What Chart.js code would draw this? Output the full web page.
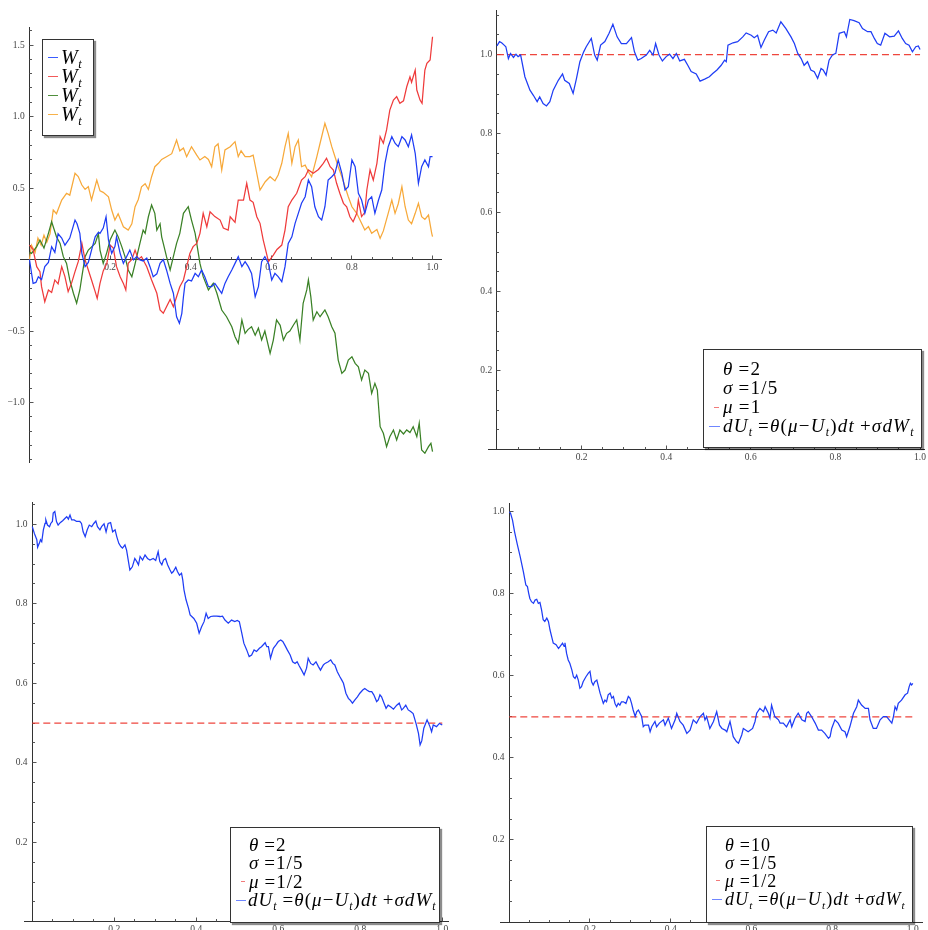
<!DOCTYPE html>
<html><head><meta charset="utf-8">
<script src="https://cdn.jsdelivr.net/npm/chart.js@4.4.1/dist/chart.umd.min.js"></script>
<style>
html,body{margin:0;padding:0;background:#fff;}
body{width:928px;height:930px;position:relative;overflow:hidden;}
canvas{position:absolute;}
.leg{position:absolute;background:#fff;border:1px solid #333;box-shadow:2px 2px 1px rgba(0,0,0,0.45);box-sizing:border-box;}
.row{position:absolute;white-space:nowrap;font-family:'Liberation Serif','Times New Roman',serif;color:#000;line-height:20px;height:20px;}
.mk{position:absolute;height:0;border-top:1.3px solid;}
sub{font-size:0.62em;vertical-align:-0.32em;line-height:0;}
.fB{font-size:19px;letter-spacing:1.2px;}
.fC{font-size:19px;letter-spacing:1.05px;}
.fD{font-size:18px;letter-spacing:1.1px;}
.fA{font-size:20px;letter-spacing:0.5px;}
</style></head><body>
<canvas id="cA" width="464" height="470" style="left:0;top:0"></canvas>
<canvas id="cB" width="464" height="465" style="left:464px;top:0"></canvas>
<canvas id="cC" width="464" height="465" style="left:0;top:465px"></canvas>
<canvas id="cD" width="464" height="465" style="left:464px;top:465px"></canvas>

<!-- legend A -->
<div class="leg" style="left:42px;top:39px;width:52px;height:97px;"></div>
<div class="mk" style="left:48px;top:57px;width:10px;border-color:#3a5cff"></div>
<div class="mk" style="left:48px;top:76px;width:10px;border-color:#f25a5a"></div>
<div class="mk" style="left:48px;top:95px;width:10px;border-color:#4f8f3c"></div>
<div class="mk" style="left:48px;top:114px;width:10px;border-color:#f7b24a"></div>
<div class="row fA" style="left:61px;top:47px;"><i>W</i><sub><i>t</i></sub></div>
<div class="row fA" style="left:61px;top:66px;"><i>W</i><sub><i>t</i></sub></div>
<div class="row fA" style="left:61px;top:85px;"><i>W</i><sub><i>t</i></sub></div>
<div class="row fA" style="left:61px;top:104px;"><i>W</i><sub><i>t</i></sub></div>

<!-- legend B -->
<div class="leg" style="left:703px;top:349px;width:219px;height:99px;"></div>
<div class="row fB" style="left:723px;top:359px;"><i>θ</i>&#8201;=2</div>
<div class="row fB" style="left:723px;top:378px;"><i>σ</i>&#8201;=1/5</div>
<div class="mk" style="left:714px;top:407px;width:5px;border-color:#f27a7a"></div>
<div class="row fB" style="left:723px;top:397px;"><i>μ</i>&#8201;=1</div>
<div class="mk" style="left:709px;top:426px;width:11px;border-color:#6f86ff"></div>
<div class="row fB" style="left:723px;top:416px;"><i>dU</i><sub><i>t</i></sub>&#8201;=<i>θ</i>(<i>μ</i>−<i>U</i><sub><i>t</i></sub>)<i>dt</i>&#8201;+<i>σdW</i><sub><i>t</i></sub></div>

<!-- legend C -->
<div class="leg" style="left:230px;top:827px;width:210px;height:96px;"></div>
<div class="row fC" style="left:249px;top:835px;"><i>θ</i>&#8201;=2</div>
<div class="row fC" style="left:249px;top:853px;"><i>σ</i>&#8201;=1/5</div>
<div class="mk" style="left:241px;top:881px;width:4px;border-color:#f27a7a"></div>
<div class="row fC" style="left:249px;top:872px;"><i>μ</i>&#8201;=1/2</div>
<div class="mk" style="left:236px;top:900px;width:10px;border-color:#6f86ff"></div>
<div class="row fC" style="left:248px;top:890px;"><i>dU</i><sub><i>t</i></sub>&#8201;=<i>θ</i>(<i>μ</i>−<i>U</i><sub><i>t</i></sub>)<i>dt</i>&#8201;+<i>σdW</i><sub><i>t</i></sub></div>

<!-- legend D -->
<div class="leg" style="left:706px;top:826px;width:207px;height:97px;"></div>
<div class="row fD" style="left:725px;top:835px;"><i>θ</i>&#8201;=10</div>
<div class="row fD" style="left:725px;top:853px;"><i>σ</i>&#8201;=1/5</div>
<div class="mk" style="left:716px;top:880px;width:4px;border-color:#f27a7a"></div>
<div class="row fD" style="left:725px;top:871px;"><i>μ</i>&#8201;=1/2</div>
<div class="mk" style="left:712px;top:899px;width:10px;border-color:#6f86ff"></div>
<div class="row fD" style="left:725px;top:889px;"><i>dU</i><sub><i>t</i></sub>&#8201;=<i>θ</i>(<i>μ</i>−<i>U</i><sub><i>t</i></sub>)<i>dt</i>&#8201;+<i>σdW</i><sub><i>t</i></sub></div>

<script>
// ---------------- DATA ----------------
// Panel A: four Wiener paths W_t
const blueT = [0,0.009,0.016,0.022,0.030,0.038,0.047,0.055,0.063,0.071,
0.080,0.088,0.100,0.113,0.118,0.125,0.130,0.138,0.146,0.154,
0.163,0.171,0.175,0.183,0.190,0.196,0.204,0.212,0.216,0.225,
0.233,0.241,0.249,0.258,0.266,0.274,0.282,0.291,0.299,0.307,
0.316,0.324,0.332,0.340,0.349,0.357,0.365,0.372,0.378,0.382,
0.386,0.394,0.402,0.411,0.419,0.427,0.435,0.444,0.452,0.460,
0.468,0.477,0.485,0.493,0.502,0.510,0.518,0.527,0.535,0.543,
0.551,0.560,0.568,0.576,0.584,0.593,0.601,0.609,0.617,0.626,
0.634,0.642,0.651,0.659,0.667,0.675,0.684,0.692,0.700,0.708,
0.717,0.725,0.733,0.741,0.750,0.758,0.766,0.775,0.783,0.791,
0.800,0.808,0.816,0.824,0.832,0.841,0.849,0.857,0.866,0.874,
0.882,0.890,0.899,0.907,0.915,0.924,0.932,0.940,0.948,0.957,
0.965,0.973,0.981,0.990,0.994,1.0];
const blueW = [0,-0.167,-0.16,-0.12,-0.14,-0.05,-0.02,0.09,0.05,0.18,
0.15,0.10,0.15,0.276,0.25,0.183,0.043,-0.05,-0.02,0.066,
0.159,0.19,0.183,0.22,0.299,0.136,0.043,0.09,0.159,0.043,
-0.027,0.02,0.066,-0.003,0.02,-0.003,-0.01,0.01,-0.05,-0.12,
-0.10,-0.027,0.0,-0.073,-0.167,-0.236,-0.40,-0.446,-0.376,-0.26,
-0.167,-0.143,-0.15,-0.097,-0.12,-0.073,-0.12,-0.19,-0.19,-0.167,
-0.20,-0.236,-0.167,-0.12,-0.073,-0.027,0.02,-0.05,-0.015,-0.05,
-0.097,-0.26,-0.19,-0.015,0.02,-0.027,-0.143,-0.097,-0.12,-0.155,
-0.05,0.113,0.159,0.253,0.323,0.393,0.439,0.556,0.509,0.369,
0.299,0.276,0.369,0.556,0.579,0.603,0.696,0.603,0.486,0.509,
0.696,0.649,0.463,0.416,0.323,0.416,0.439,0.323,0.416,0.486,
0.673,0.789,0.859,0.813,0.789,0.859,0.836,0.789,0.871,0.743,
0.533,0.649,0.696,0.649,0.719,0.719];

const redT = [0,0.009,0.018,0.026,0.030,0.038,0.047,0.055,0.063,0.071,
0.080,0.088,0.096,0.105,0.113,0.121,0.130,0.138,0.146,0.154,
0.163,0.168,0.175,0.183,0.192,0.200,0.208,0.216,0.225,0.233,
0.239,0.245,0.254,0.262,0.270,0.278,0.291,0.303,0.316,0.324,
0.332,0.340,0.349,0.357,0.365,0.373,0.382,0.390,0.398,0.406,
0.415,0.423,0.431,0.440,0.448,0.460,0.473,0.481,0.493,0.498,
0.510,0.518,0.531,0.539,0.547,0.555,0.564,0.572,0.580,0.593,
0.605,0.614,0.626,0.634,0.642,0.651,0.663,0.675,0.684,0.692,
0.704,0.717,0.729,0.737,0.746,0.754,0.762,0.770,0.779,0.787,
0.795,0.803,0.812,0.816,0.824,0.832,0.837,0.845,0.853,0.862,
0.870,0.878,0.886,0.894,0.903,0.911,0.919,0.928,0.936,0.944,
0.948,0.957,0.961,0.969,0.974,0.981,0.986,0.994,1.0];
const redW = [0.10,0.07,-0.05,-0.085,-0.19,-0.295,-0.213,-0.23,-0.143,-0.17,
-0.05,-0.12,-0.225,-0.16,-0.085,-0.015,0.113,-0.003,-0.073,-0.143,
-0.225,-0.272,-0.167,-0.08,-0.027,0.101,0.08,-0.05,-0.12,-0.167,
-0.213,-0.027,0.0,0.066,0.0,0.02,-0.05,-0.143,-0.236,-0.353,
-0.376,-0.33,-0.28,-0.33,-0.26,-0.19,-0.143,-0.05,0.043,0.09,
0.113,0.183,0.323,0.229,0.334,0.30,0.276,0.22,0.206,0.299,
0.26,0.416,0.416,0.533,0.416,0.40,0.299,0.253,0.136,-0.015,
0.031,0.07,0.101,0.206,0.369,0.416,0.463,0.556,0.579,0.626,
0.603,0.63,0.673,0.708,0.649,0.626,0.533,0.463,0.393,0.369,
0.299,0.264,0.323,0.416,0.30,0.33,0.486,0.626,0.556,0.673,
0.859,0.813,0.906,1.045,1.115,1.139,1.092,1.11,1.208,1.278,
1.24,1.325,1.185,1.115,1.092,1.325,1.372,1.395,1.558];

const greenT = [0,0.005,0.018,0.026,0.036,0.047,0.055,0.067,0.076,0.084,
0.092,0.100,0.109,0.117,0.125,0.130,0.138,0.146,0.163,0.171,
0.175,0.183,0.192,0.200,0.208,0.212,0.220,0.229,0.237,0.245,
0.254,0.262,0.274,0.282,0.287,0.295,0.303,0.311,0.316,0.324,
0.328,0.332,0.340,0.349,0.357,0.365,0.373,0.382,0.394,0.402,
0.411,0.415,0.423,0.431,0.444,0.456,0.465,0.477,0.489,0.502,
0.510,0.518,0.527,0.535,0.542,0.551,0.560,0.568,0.576,0.584,
0.597,0.605,0.613,0.622,0.630,0.638,0.646,0.655,0.663,0.671,
0.679,0.688,0.692,0.698,0.704,0.713,0.721,0.733,0.741,0.750,
0.758,0.766,0.775,0.783,0.791,0.800,0.808,0.816,0.824,0.832,
0.841,0.849,0.857,0.863,0.870,0.878,0.886,0.894,0.903,0.911,
0.919,0.928,0.936,0.944,0.952,0.961,0.967,0.973,0.981,0.990,
0.996,1.0];
const greenW = [0.05,0.043,0.09,0.136,0.08,0.183,0.264,0.159,0.113,0.02,
-0.027,-0.143,-0.236,-0.306,-0.213,-0.12,0.02,0.066,0.113,0.18,
0.066,-0.027,0.05,0.136,0.183,0.206,0.16,0.09,0.02,-0.073,
-0.12,-0.03,0.113,0.206,0.183,0.299,0.381,0.323,0.206,0.25,
0.159,0.113,0.02,-0.073,0.02,0.113,0.183,0.323,0.369,0.276,
0.183,0.113,-0.027,-0.12,-0.213,-0.167,-0.236,-0.353,-0.40,-0.47,
-0.54,-0.586,-0.423,-0.516,-0.49,-0.47,-0.53,-0.48,-0.563,-0.50,
-0.656,-0.563,-0.423,-0.46,-0.563,-0.516,-0.50,-0.458,-0.423,-0.563,
-0.306,-0.213,-0.143,-0.26,-0.423,-0.365,-0.40,-0.353,-0.40,-0.47,
-0.516,-0.703,-0.796,-0.773,-0.703,-0.68,-0.726,-0.75,-0.843,-0.773,
-0.796,-0.936,-0.866,-0.913,-1.169,-1.215,-1.309,-1.239,-1.192,-1.262,
-1.192,-1.22,-1.192,-1.21,-1.169,-1.239,-1.145,-1.332,-1.355,-1.309,
-1.285,-1.344];

const orangeT = [0,0.005,0.014,0.021,0.029,0.036,0.043,0.051,0.059,0.067,
0.080,0.092,0.100,0.113,0.121,0.130,0.138,0.146,0.154,0.167,
0.175,0.183,0.196,0.204,0.212,0.220,0.233,0.245,0.254,0.262,
0.270,0.278,0.287,0.295,0.303,0.311,0.320,0.328,0.340,0.353,
0.365,0.373,0.382,0.390,0.402,0.415,0.423,0.435,0.444,0.452,
0.460,0.468,0.477,0.485,0.498,0.510,0.518,0.525,0.535,0.547,
0.555,0.564,0.572,0.585,0.597,0.609,0.617,0.626,0.634,0.642,
0.651,0.659,0.667,0.675,0.684,0.692,0.700,0.713,0.721,0.733,
0.741,0.750,0.758,0.766,0.775,0.783,0.791,0.800,0.812,0.820,
0.832,0.841,0.849,0.862,0.870,0.878,0.890,0.899,0.907,0.915,
0.924,0.932,0.940,0.948,0.957,0.965,0.973,0.981,0.990,0.998,
1.0];
const orangeW = [0.0,0.10,0.05,0.15,0.10,0.17,0.12,0.18,0.346,0.32,
0.416,0.463,0.45,0.603,0.58,0.521,0.49,0.51,0.416,0.556,
0.48,0.47,0.439,0.346,0.276,0.32,0.229,0.206,0.25,0.369,
0.42,0.509,0.53,0.49,0.579,0.649,0.673,0.70,0.719,0.74,
0.836,0.76,0.78,0.719,0.789,0.73,0.696,0.72,0.70,0.649,
0.789,0.81,0.626,0.766,0.789,0.824,0.719,0.76,0.719,0.72,
0.73,0.603,0.486,0.544,0.579,0.55,0.591,0.673,0.789,0.882,
0.673,0.789,0.836,0.649,0.66,0.614,0.579,0.719,0.813,0.952,
0.882,0.789,0.719,0.649,0.579,0.509,0.439,0.369,0.323,0.276,
0.206,0.23,0.183,0.21,0.148,0.20,0.323,0.416,0.323,0.39,
0.509,0.369,0.276,0.25,0.323,0.393,0.299,0.28,0.311,0.183,
0.16];

// Panel B: OU process, theta=2, sigma=1/5, mu=1
const muB = 1;
const bT = [0,0.006,0.011,0.017,0.021,0.027,0.032,0.039,0.045,0.050,
0.056,0.066,0.078,0.086,0.095,0.101,0.109,0.117,0.125,0.133,
0.145,0.155,0.160,0.171,0.180,0.188,0.196,0.205,0.211,0.223,
0.231,0.237,0.245,0.255,0.265,0.274,0.284,0.294,0.306,0.318,
0.325,0.333,0.341,0.353,0.361,0.369,0.375,0.383,0.391,0.400,
0.408,0.416,0.424,0.432,0.443,0.451,0.459,0.471,0.480,0.491,
0.502,0.510,0.520,0.530,0.538,0.542,0.546,0.558,0.569,0.581,
0.589,0.601,0.608,0.616,0.624,0.632,0.642,0.652,0.660,0.671,
0.683,0.695,0.703,0.711,0.719,0.726,0.734,0.742,0.750,0.758,
0.766,0.771,0.778,0.785,0.793,0.801,0.809,0.821,0.826,0.834,
0.844,0.856,0.864,0.876,0.884,0.892,0.899,0.907,0.917,0.928,
0.939,0.949,0.958,0.966,0.974,0.982,0.990,0.996,1.0];
const bU = [1.022,1.033,1.030,1.024,1.020,0.990,1.003,0.993,1.001,0.995,
0.999,0.944,0.910,0.897,0.881,0.893,0.876,0.870,0.881,0.910,
0.935,0.951,0.935,0.927,0.902,0.940,0.982,1.007,1.020,1.041,
0.999,0.986,1.024,1.033,1.054,1.077,1.045,1.028,1.028,1.043,
1.007,0.986,0.990,0.999,1.011,0.999,1.028,0.999,0.984,0.995,
1.001,0.990,1.003,0.984,0.988,0.973,0.957,0.951,0.933,0.938,
0.944,0.952,0.961,0.973,0.986,0.982,1.024,1.030,1.033,1.045,
1.055,1.049,1.043,1.049,1.018,1.037,1.058,1.062,1.055,1.083,
1.066,1.045,1.028,1.003,0.990,0.973,0.982,0.961,0.957,0.940,
0.965,0.961,0.948,0.986,0.999,1.003,1.054,1.058,1.045,1.089,
1.086,1.081,1.066,1.058,1.058,1.041,1.028,1.024,1.054,1.045,
1.047,1.060,1.041,1.028,1.024,1.007,1.020,1.022,1.013];

// Panel C: OU process, theta=2, sigma=1/5, mu=1/2
const muC = 0.5;
const cT = [0,0.005,0.011,0.013,0.017,0.020,0.023,0.027,0.031,0.033,
0.037,0.042,0.045,0.049,0.051,0.055,0.059,0.063,0.068,0.074,
0.080,0.084,0.088,0.092,0.096,0.102,0.108,0.116,0.120,0.124,
0.129,0.134,0.139,0.145,0.150,0.155,0.159,0.165,0.169,0.175,
0.180,0.185,0.191,0.196,0.202,0.206,0.211,0.216,0.220,0.226,
0.230,0.234,0.238,0.244,0.250,0.255,0.259,0.263,0.269,0.275,
0.281,0.287,0.295,0.301,0.307,0.311,0.316,0.320,0.325,0.330,
0.336,0.340,0.344,0.350,0.354,0.359,0.364,0.367,0.370,0.375,
0.381,0.385,0.389,0.394,0.401,0.407,0.413,0.419,0.424,0.429,
0.435,0.442,0.450,0.458,0.464,0.470,0.478,0.486,0.494,0.500,
0.505,0.511,0.516,0.523,0.529,0.535,0.541,0.547,0.554,0.559,
0.568,0.572,0.576,0.581,0.588,0.594,0.600,0.606,0.611,0.616,
0.622,0.629,0.635,0.641,0.646,0.651,0.657,0.663,0.669,0.673,
0.679,0.685,0.692,0.698,0.703,0.710,0.714,0.722,0.728,0.733,
0.738,0.744,0.750,0.755,0.759,0.765,0.771,0.775,0.781,0.787,
0.793,0.799,0.806,0.811,0.816,0.822,0.828,0.833,0.840,0.844,
0.848,0.852,0.858,0.863,0.868,0.874,0.881,0.889,0.895,0.901,
0.905,0.911,0.917,0.923,0.929,0.936,0.942,0.946,0.950,0.955,
0.963,0.970,0.974,0.978,0.986,0.993,1.0];
const cU = [0.994,0.977,0.961,0.942,0.952,0.961,0.956,0.986,1.002,1.011,
0.998,0.994,1.002,1.007,1.028,1.032,1.007,0.998,1.004,1.009,
1.015,1.019,1.013,1.023,1.011,1.011,1.007,1.007,1.002,0.981,
0.969,0.986,0.998,0.994,1.002,1.008,0.994,0.986,0.994,1.001,
0.981,1.002,1.004,0.981,0.986,0.969,0.952,0.944,0.940,0.948,
0.935,0.910,0.885,0.893,0.914,0.906,0.898,0.919,0.910,0.923,
0.914,0.910,0.914,0.909,0.931,0.906,0.898,0.910,0.914,0.898,
0.885,0.877,0.881,0.892,0.881,0.872,0.877,0.860,0.835,0.810,
0.789,0.772,0.768,0.763,0.751,0.726,0.742,0.755,0.776,0.763,
0.768,0.769,0.769,0.768,0.769,0.759,0.751,0.759,0.755,0.758,
0.755,0.726,0.701,0.684,0.667,0.671,0.684,0.680,0.688,0.692,
0.702,0.692,0.692,0.663,0.688,0.696,0.705,0.709,0.705,0.696,
0.684,0.671,0.654,0.650,0.654,0.644,0.633,0.621,0.638,0.663,
0.650,0.646,0.654,0.642,0.633,0.646,0.650,0.654,0.659,0.650,
0.646,0.629,0.617,0.608,0.600,0.575,0.562,0.558,0.550,0.558,
0.566,0.575,0.583,0.587,0.583,0.579,0.579,0.571,0.554,0.558,
0.571,0.566,0.550,0.537,0.545,0.541,0.535,0.545,0.550,0.533,
0.537,0.545,0.533,0.529,0.524,0.499,0.474,0.445,0.455,0.487,
0.508,0.491,0.478,0.495,0.491,0.499,0.495];

// Panel D: OU process, theta=10, sigma=1/5, mu=1/2
const muD = 0.5;
const dT = [0,0.003,0.008,0.013,0.020,0.027,0.035,0.041,0.045,0.048,
0.051,0.055,0.060,0.064,0.068,0.072,0.076,0.080,0.084,0.088,
0.093,0.097,0.101,0.105,0.109,0.116,0.122,0.126,0.132,0.136,
0.138,0.142,0.146,0.150,0.155,0.159,0.163,0.167,0.171,0.175,
0.179,0.183,0.190,0.196,0.200,0.204,0.208,0.212,0.217,0.221,
0.225,0.229,0.233,0.237,0.241,0.245,0.250,0.254,0.258,0.262,
0.266,0.270,0.274,0.278,0.283,0.289,0.295,0.299,0.303,0.307,
0.312,0.316,0.320,0.324,0.328,0.332,0.336,0.345,0.349,0.353,
0.361,0.365,0.372,0.382,0.386,0.394,0.402,0.411,0.415,0.423,
0.431,0.440,0.448,0.456,0.464,0.473,0.481,0.485,0.489,0.497,
0.506,0.514,0.521,0.527,0.535,0.539,0.547,0.555,0.563,0.568,
0.576,0.580,0.592,0.603,0.609,0.613,0.621,0.630,0.634,0.642,
0.646,0.650,0.658,0.667,0.671,0.679,0.687,0.696,0.700,0.708,
0.716,0.725,0.733,0.737,0.741,0.749,0.758,0.766,0.774,0.782,
0.791,0.795,0.799,0.807,0.815,0.824,0.832,0.836,0.844,0.853,
0.861,0.865,0.873,0.882,0.890,0.894,0.902,0.910,0.919,0.927,
0.935,0.948,0.952,0.956,0.960,0.964,0.972,0.981,0.987,0.991,
0.994,0.997,1.0];
const dU = [1.0,0.997,0.980,0.952,0.920,0.891,0.854,0.822,0.818,0.802,
0.789,0.781,0.777,0.785,0.787,0.777,0.779,0.761,0.737,0.733,
0.741,0.733,0.712,0.696,0.680,0.676,0.667,0.672,0.680,0.672,
0.681,0.655,0.639,0.631,0.615,0.598,0.594,0.602,0.590,0.570,
0.574,0.586,0.598,0.607,0.611,0.586,0.578,0.586,0.590,0.574,
0.558,0.546,0.533,0.541,0.537,0.554,0.558,0.546,0.550,0.533,
0.525,0.533,0.529,0.537,0.537,0.533,0.550,0.546,0.533,0.517,
0.501,0.513,0.517,0.509,0.501,0.476,0.480,0.480,0.464,0.476,
0.489,0.476,0.485,0.493,0.480,0.497,0.472,0.493,0.509,0.489,
0.480,0.460,0.468,0.493,0.485,0.501,0.509,0.493,0.501,0.472,
0.489,0.513,0.480,0.472,0.468,0.464,0.489,0.452,0.440,0.436,
0.456,0.472,0.464,0.472,0.489,0.509,0.521,0.513,0.525,0.509,
0.497,0.529,0.501,0.493,0.485,0.485,0.476,0.493,0.476,0.497,
0.509,0.493,0.489,0.509,0.513,0.501,0.485,0.468,0.468,0.460,
0.448,0.452,0.472,0.493,0.485,0.468,0.464,0.452,0.476,0.509,
0.525,0.541,0.529,0.521,0.521,0.493,0.472,0.472,0.493,0.501,
0.501,0.485,0.501,0.525,0.517,0.533,0.541,0.554,0.558,0.574,
0.582,0.578,0.582];

// Tick values and labels
const xTicks = [0.2, 0.4, 0.6, 0.8, 1.0];
const xTickLabels = ['0.2', '0.4', '0.6', '0.8', '1.0'];
const yTicksA = [-1.0, -0.5, 0.5, 1.0, 1.5];
const yTickLabelsA = ['\u22121.0', '\u22120.5', '0.5', '1.0', '1.5'];
const yTicksOU = [0.2, 0.4, 0.6, 0.8, 1.0];
const yTickLabelsOU = ['0.2', '0.4', '0.6', '0.8', '1.0'];

// ---------------- RENDER ----------------
Chart.defaults.font.family = "'Liberation Serif', 'Times New Roman', serif";
Chart.defaults.color = '#444';

function stepList(a, b, s, exclude) {
  const out = [];
  for (let k = Math.round(a / s); k * s <= b + 1e-9; k++) {
    const v = Math.round(k * s * 1000) / 1000;
    if (Math.abs(v) < 1e-9) continue;
    if (exclude.some(e => Math.abs(e - v) < 1e-6)) continue;
    out.push(v);
  }
  return out;
}

const mmaTicks = {
  id: 'mmaTicks',
  beforeDatasetsDraw(chart, args, o) {
    const ctx = chart.ctx, xs = chart.scales.x, ys = chart.scales.y;
    const al = p => Math.round(p - 0.5) + 0.5;
    const ay = al(ys.getPixelForValue(0));
    const ax = al(xs.getPixelForValue(0));
    ctx.save();
    ctx.strokeStyle = '#555';
    ctx.lineWidth = 1;
    ctx.beginPath();
    const dx = (vals, len) => vals.forEach(v => { const p = al(xs.getPixelForValue(v)); ctx.moveTo(p, ay); ctx.lineTo(p, ay - len); });
    const dy = (vals, len) => vals.forEach(v => { const p = al(ys.getPixelForValue(v)); ctx.moveTo(ax, p); ctx.lineTo(ax + len, p); });
    dx(o.xMajor, 4); dx(o.xMinor, 2.5); dy(o.yMajor, 4); dy(o.yMinor, 2.5);
    ctx.stroke();
    ctx.restore();
  }
};

function line(T, V, color, extra) {
  return Object.assign({
    data: T.map((t, i) => ({x: t, y: V[i]})),
    borderColor: color, borderWidth: 1.25, pointRadius: 0, fill: false, tension: 0
  }, extra || {});
}

function makeChart(id, datasets, pad, xr, yr, yTicks, yLabels, yMinorStep) {
  return new Chart(document.getElementById(id), {
    type: 'line',
    data: {datasets},
    options: {
      responsive: false, animation: false, devicePixelRatio: 1, events: [],
      layout: {padding: pad},
      plugins: {
        legend: {display: false}, tooltip: {enabled: false},
        mmaTicks: {
          xMajor: xTicks, xMinor: stepList(0, xr[1], 0.05, xTicks),
          yMajor: yTicks, yMinor: stepList(yr[0], yr[1], yMinorStep, yTicks)
        }
      },
      scales: {
        x: {
          type: 'linear', axis: 'x', min: xr[0], max: xr[1], position: {y: 0},
          grid: {display: true, drawOnChartArea: false, drawTicks: false},
          border: {display: true, color: '#333', width: 1},
          afterBuildTicks: s => { s.ticks = xTicks.map(v => ({value: v})); },
          ticks: {autoSkip: false, maxRotation: 0, padding: 2, color: '#444', font: {size: 9.5},
                  callback: (v, i) => xTickLabels[i]}
        },
        y: {
          type: 'linear', axis: 'y', min: yr[0], max: yr[1], position: {x: 0},
          grid: {display: true, drawOnChartArea: false, drawTicks: false},
          border: {display: true, color: '#333', width: 1},
          afterBuildTicks: s => { s.ticks = yTicks.map(v => ({value: v})); },
          ticks: {autoSkip: false, padding: 0, color: '#444', font: {size: 9.5},
                  callback: (v, i) => yLabels[i] + '\u2002'}
        }
      }
    },
    plugins: [mmaTicks]
  });
}

const RED_DASH = {borderDash: [7, 4], borderWidth: 1.2};

makeChart('cA', [
  line(blueT, blueW, '#1f3df5'),
  line(redT, redW, '#ef3b3b'),
  line(greenT, greenW, '#3a8126'),
  line(orangeT, orangeW, '#f7a93a')
], {left: 20.6, right: 22.6, top: 27, bottom: 8}, [-0.022, 1.022], [-1.416, 1.626], yTicksA, yTickLabelsA, 0.1);

makeChart('cB', [
  line(bT, bU, '#1f3df5'),
  line([0, 1], [muB, muB], 'rgba(236,50,40,0.9)', RED_DASH)
], {left: 24.5, right: 2.8, top: 10, bottom: 15.5}, [-0.02, 1.01], [0, 1.113], yTicksOU, yTickLabelsOU, 0.05);

makeChart('cC', [
  line(cT, cU, '#1f3df5'),
  line([0, 1], [muC, muC], 'rgba(236,50,40,0.9)', RED_DASH)
], {left: 24.1, right: 15.6, top: 37.8, bottom: 8.2}, [-0.02, 1.015], [0, 1.054], yTicksOU, yTickLabelsOU, 0.05);

makeChart('cD', [
  line(dT, dU, '#1f3df5'),
  line([0, 1], [muD, muD], 'rgba(236,50,40,0.9)', RED_DASH)
], {left: 36, right: 5.1, top: 38.3, bottom: 8}, [-0.023, 1.025], [0, 1.021], yTicksOU, yTickLabelsOU, 0.05);
</script>
</body></html>
